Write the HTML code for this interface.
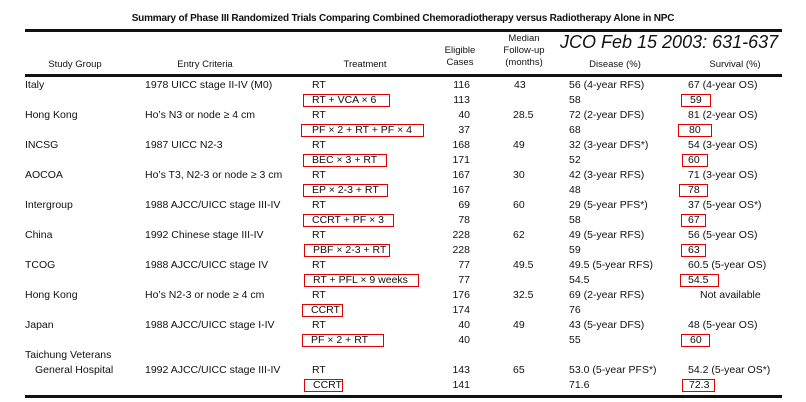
<!DOCTYPE html>
<html><head><meta charset="utf-8"><style>
body{margin:0;width:806px;height:402px;background:#fff;position:relative;overflow:hidden;font-family:"Liberation Sans",sans-serif;color:#111;}
div{position:absolute;white-space:nowrap;font-size:10.5px;line-height:15px;}
.r{text-align:right}
.c{text-align:center}
.b{border:1.5px solid #e00000;height:13px;line-height:10px;box-sizing:border-box;padding-left:8px}
.rule{background:#111;height:2.5px;left:25px;width:757px}
</style></head><body>
<div style="left:0;width:806px;top:11px;text-align:center;font-weight:bold;font-size:10px;letter-spacing:-0.2px">Summary of Phase III Randomized Trials Comparing Combined Chemoradiotherapy versus Radiotherapy Alone in NPC</div>
<div class="rule" style="top:29px"></div>
<div class="rule" style="top:74px"></div>
<div class="rule" style="top:395px"></div>
<div style="left:560px;top:32px;font-size:18px;line-height:20px;font-style:italic">JCO Feb 15 2003: 631-637</div>
<div class="c" style="left:20px;width:110px;top:57px;font-size:9.5px">Study Group</div>
<div class="c" style="left:150px;width:110px;top:57px;font-size:9.5px">Entry Criteria</div>
<div class="c" style="left:310px;width:110px;top:57px;font-size:9.5px">Treatment</div>
<div class="c" style="left:430px;width:60px;top:45px;font-size:9.5px;line-height:12px">Eligible<br>Cases</div>
<div class="c" style="left:494px;width:60px;top:33px;font-size:9.5px;line-height:12px">Median<br>Follow-up<br>(months)</div>
<div class="c" style="left:560px;width:110px;top:57px;font-size:9.5px">Disease (%)</div>
<div class="c" style="left:680px;width:110px;top:57px;font-size:9.5px">Survival (%)</div>

<div style="left:25px;top:78px">Italy</div>
<div style="left:25px;top:108px">Hong Kong</div>
<div style="left:25px;top:138px">INCSG</div>
<div style="left:25px;top:168px">AOCOA</div>
<div style="left:25px;top:198px">Intergroup</div>
<div style="left:25px;top:228px">China</div>
<div style="left:25px;top:258px">TCOG</div>
<div style="left:25px;top:288px">Hong Kong</div>
<div style="left:25px;top:318px">Japan</div>
<div style="left:25px;top:348px">Taichung Veterans</div>
<div style="left:35px;top:363px">General Hospital</div>

<div style="left:145px;top:78px">1978 UICC stage II-IV (M0)</div>
<div style="left:145px;top:108px">Ho’s N3 or node ≥ 4 cm</div>
<div style="left:145px;top:138px">1987 UICC N2-3</div>
<div style="left:145px;top:168px">Ho’s T3, N2-3 or node ≥ 3 cm</div>
<div style="left:145px;top:198px">1988 AJCC/UICC stage III-IV</div>
<div style="left:145px;top:228px">1992 Chinese stage III-IV</div>
<div style="left:145px;top:258px">1988 AJCC/UICC stage IV</div>
<div style="left:145px;top:288px">Ho’s N2-3 or node ≥ 4 cm</div>
<div style="left:145px;top:318px">1988 AJCC/UICC stage I-IV</div>
<div style="left:145px;top:363px">1992 AJCC/UICC stage III-IV</div>

<div style="left:312px;top:78px">RT</div>
<div class="b" style="left:303px;top:94px;width:87px">RT + VCA × 6</div>
<div style="left:312px;top:108px">RT</div>
<div class="b" style="left:301px;top:124px;width:123px;padding-left:10px">PF × 2 + RT + PF × 4</div>
<div style="left:312px;top:138px">RT</div>
<div class="b" style="left:303px;top:154px;width:84px">BEC × 3 + RT</div>
<div style="left:312px;top:168px">RT</div>
<div class="b" style="left:303px;top:184px;width:85px">EP × 2-3 + RT</div>
<div style="left:312px;top:198px">RT</div>
<div class="b" style="left:303px;top:214px;width:91px">CCRT + PF × 3</div>
<div style="left:312px;top:228px">RT</div>
<div class="b" style="left:304px;top:244px;width:86px">PBF × 2-3 + RT</div>
<div style="left:312px;top:258px">RT</div>
<div class="b" style="left:304px;top:274px;width:115px">RT + PFL × 9 weeks</div>
<div style="left:312px;top:288px">RT</div>
<div class="b" style="left:302px;top:304px;width:41px">CCRT</div>
<div style="left:312px;top:318px">RT</div>
<div class="b" style="left:302px;top:334px;width:82px">PF × 2 + RT</div>
<div style="left:312px;top:363px">RT</div>
<div class="b" style="left:304px;top:379px;width:39px">CCRT</div>

<div class="r" style="left:420px;width:50px;top:78px">116</div>
<div class="r" style="left:420px;width:50px;top:93px">113</div>
<div class="r" style="left:420px;width:50px;top:108px">40</div>
<div class="r" style="left:420px;width:50px;top:123px">37</div>
<div class="r" style="left:420px;width:50px;top:138px">168</div>
<div class="r" style="left:420px;width:50px;top:153px">171</div>
<div class="r" style="left:420px;width:50px;top:168px">167</div>
<div class="r" style="left:420px;width:50px;top:183px">167</div>
<div class="r" style="left:420px;width:50px;top:198px">69</div>
<div class="r" style="left:420px;width:50px;top:213px">78</div>
<div class="r" style="left:420px;width:50px;top:228px">228</div>
<div class="r" style="left:420px;width:50px;top:243px">228</div>
<div class="r" style="left:420px;width:50px;top:258px">77</div>
<div class="r" style="left:420px;width:50px;top:273px">77</div>
<div class="r" style="left:420px;width:50px;top:288px">176</div>
<div class="r" style="left:420px;width:50px;top:303px">174</div>
<div class="r" style="left:420px;width:50px;top:318px">40</div>
<div class="r" style="left:420px;width:50px;top:333px">40</div>
<div class="r" style="left:420px;width:50px;top:363px">143</div>
<div class="r" style="left:420px;width:50px;top:378px">141</div>

<div style="left:514px;top:78px">43</div>
<div style="left:513px;top:108px">28.5</div>
<div style="left:513px;top:138px">49</div>
<div style="left:513px;top:168px">30</div>
<div style="left:513px;top:198px">60</div>
<div style="left:513px;top:228px">62</div>
<div style="left:513px;top:258px">49.5</div>
<div style="left:513px;top:288px">32.5</div>
<div style="left:513px;top:318px">49</div>
<div style="left:513px;top:363px">65</div>

<div style="left:569px;top:78px">56 (4-year RFS)</div>
<div style="left:569px;top:93px">58</div>
<div style="left:569px;top:108px">72 (2-year DFS)</div>
<div style="left:569px;top:123px">68</div>
<div style="left:569px;top:138px">32 (3-year DFS*)</div>
<div style="left:569px;top:153px">52</div>
<div style="left:569px;top:168px">42 (3-year RFS)</div>
<div style="left:569px;top:183px">48</div>
<div style="left:569px;top:198px">29 (5-year PFS*)</div>
<div style="left:569px;top:213px">58</div>
<div style="left:569px;top:228px">49 (5-year RFS)</div>
<div style="left:569px;top:243px">59</div>
<div style="left:569px;top:258px">49.5 (5-year RFS)</div>
<div style="left:569px;top:273px">54.5</div>
<div style="left:569px;top:288px">69 (2-year RFS)</div>
<div style="left:569px;top:303px">76</div>
<div style="left:569px;top:318px">43 (5-year DFS)</div>
<div style="left:569px;top:333px">55</div>
<div style="left:569px;top:363px">53.0 (5-year PFS*)</div>
<div style="left:569px;top:378px">71.6</div>

<div style="left:688px;top:78px">67 (4-year OS)</div>
<div class="b" style="left:681px;top:94px;width:30px">59</div>
<div style="left:688px;top:108px">81 (2-year OS)</div>
<div class="b" style="left:678px;top:124px;width:34px;padding-left:10px">80</div>
<div style="left:688px;top:138px">54 (3-year OS)</div>
<div class="b" style="left:682px;top:154px;width:26px;padding-left:5px">60</div>
<div style="left:688px;top:168px">71 (3-year OS)</div>
<div class="b" style="left:679px;top:184px;width:29px;padding-left:8px">78</div>
<div style="left:688px;top:198px">37 (5-year OS*)</div>
<div class="b" style="left:681px;top:214px;width:25px;padding-left:6px">67</div>
<div style="left:688px;top:228px">56 (5-year OS)</div>
<div class="b" style="left:681px;top:244px;width:25px;padding-left:6px">63</div>
<div style="left:688px;top:258px">60.5 (5-year OS)</div>
<div class="b" style="left:680px;top:274px;width:39px;padding-left:7px">54.5</div>
<div style="left:700px;top:288px">Not available</div>
<div style="left:688px;top:318px">48 (5-year OS)</div>
<div class="b" style="left:681px;top:334px;width:29px">60</div>
<div style="left:688px;top:363px">54.2 (5-year OS*)</div>
<div class="b" style="left:682px;top:379px;width:33px;padding-left:6px">72.3</div>
</body></html>
